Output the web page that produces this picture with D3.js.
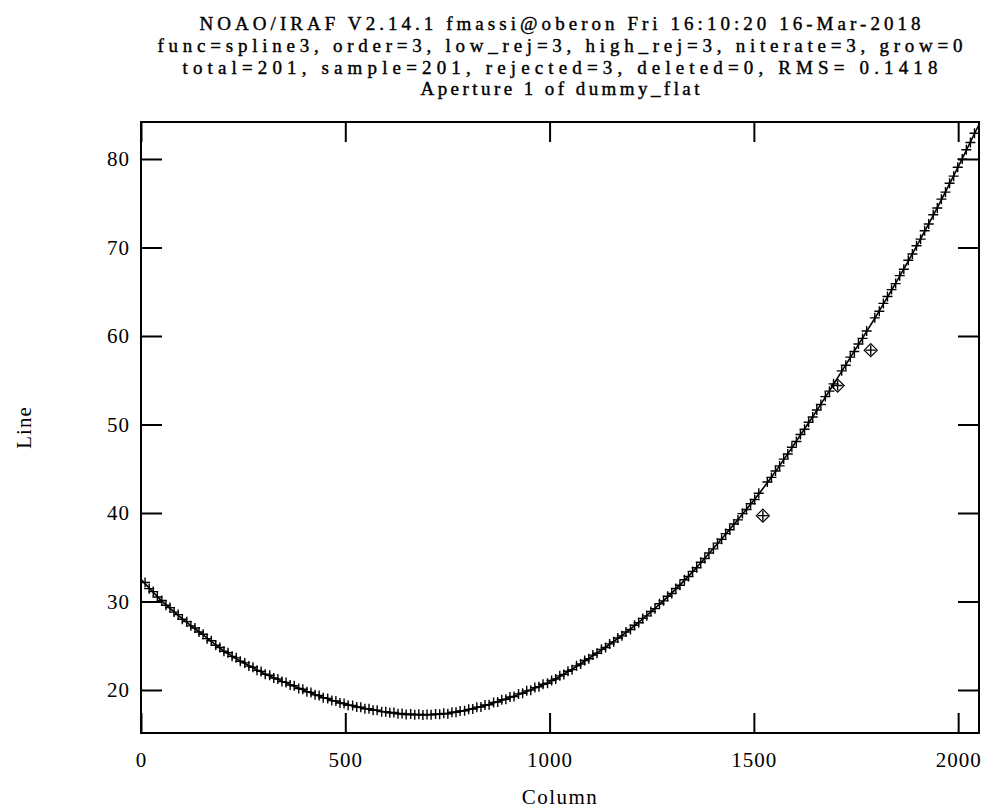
<!DOCTYPE html>
<html lang="en">
<head>
  <meta charset="UTF-8">
  <title>Aperture 1 of dummy_flat</title>
  <style>
    body {
      margin: 0;
      background: #fff;
    }
    svg {
      display: block;
      font-family: "Liberation Serif", "Times New Roman", serif;
    }
  </style>
  <script src="https://d3js.org/d3.v7.min.js"></script>
</head>
<body>
  <div id="chart"></div>

  <script>
    const titleLines = [
      "NOAO/IRAF V2.14.1 fmassi@oberon Fri 16:10:20 16-Mar-2018",
      "func=spline3, order=3, low_rej=3, high_rej=3, niterate=3, grow=0",
      "total=201, sample=201, rejected=3, deleted=0, RMS=  0.1418",
      "Aperture 1 of dummy_flat"
    ];

    // traced positions (column, line)
    const columns = [
      10, 20, 30, 40, 51, 61, 71, 81, 91, 101, 112, 122, 132, 142, 152, 162, 172, 183, 193, 203,
      213, 223, 233, 243, 254, 264, 274, 284, 294, 304, 315, 325, 335, 345, 355, 365, 375, 386, 396, 406,
      416, 426, 436, 446, 457, 467, 477, 487, 497, 507, 518, 528, 538, 548, 558, 568, 578, 589, 599, 609,
      619, 629, 639, 649, 660, 670, 680, 690, 700, 710, 721, 731, 741, 751, 761, 771, 781, 792, 802, 812,
      822, 832, 842, 852, 863, 873, 883, 893, 903, 913, 924, 934, 944, 954, 964, 974, 984, 995, 1005, 1015,
      1025, 1035, 1045, 1055, 1066, 1076, 1086, 1096, 1106, 1116, 1127, 1137, 1147, 1157, 1167, 1177, 1187, 1198, 1208, 1218,
      1228, 1238, 1248, 1258, 1269, 1279, 1289, 1299, 1309, 1319, 1330, 1340, 1350, 1360, 1370, 1380, 1390, 1401, 1411, 1421,
      1431, 1441, 1451, 1461, 1472, 1482, 1492, 1502, 1512, 1522, 1533, 1543, 1553, 1563, 1573, 1583, 1593, 1604, 1614, 1624,
      1634, 1644, 1654, 1664, 1675, 1685, 1695, 1705, 1715, 1725, 1736, 1746, 1756, 1766, 1776, 1786, 1796, 1807, 1817, 1827,
      1837, 1847, 1857, 1867, 1878, 1888, 1898, 1908, 1918, 1928, 1939, 1949, 1959, 1969, 1979, 1989, 1999, 2010, 2020, 2030,
      2040
    ];
    const lines = [
      32.15, 31.45, 31.12, 30.50, 30.12, 29.58, 29.31, 28.80, 28.52, 28.00, 27.72, 27.25, 27.01, 26.55, 26.30, 25.80, 25.57, 25.05, 24.80, 24.38,
      24.20, 23.80, 23.63, 23.25, 23.06, 22.70, 22.57, 22.22, 22.10, 21.77, 21.66, 21.35, 21.25, 20.95, 20.86, 20.57, 20.48, 20.17, 20.08, 19.80,
      19.73, 19.45, 19.38, 19.12, 19.05, 18.80, 18.76, 18.53, 18.48, 18.28, 18.26, 18.07, 18.06, 17.88, 17.88, 17.71, 17.72, 17.55, 17.55, 17.42,
      17.45, 17.32, 17.35, 17.22, 17.28, 17.19, 17.25, 17.17, 17.24, 17.20, 17.30, 17.25, 17.36, 17.32, 17.48, 17.48, 17.64, 17.65, 17.81, 17.85,
      18.06, 18.08, 18.30, 18.33, 18.60, 18.65, 18.90, 18.95, 19.20, 19.27, 19.56, 19.63, 19.90, 19.98, 20.27, 20.36, 20.65, 20.76, 21.08, 21.24,
      21.60, 21.76, 22.12, 22.30, 22.73, 22.93, 23.33, 23.53, 23.94, 24.15, 24.59, 24.80, 25.21, 25.44, 25.88, 26.12, 26.56, 26.83, 27.31, 27.60,
      28.09, 28.38, 28.87, 29.19, 29.75, 30.07, 30.59, 30.91, 31.47, 31.84, 32.46, 32.83, 33.40, 33.82, 34.44, 34.86, 35.48, 35.95, 36.59, 37.03,
      37.67, 38.11, 38.76, 39.22, 39.93, 40.39, 41.05, 41.52, 42.23, 39.70, 43.51, 44.02, 44.75, 45.32, 46.09, 46.66, 47.43, 48.08, 48.87, 49.46,
      50.25, 50.84, 51.64, 52.26, 53.15, 53.77, 54.59, 54.40, 56.06, 56.70, 57.61, 58.25, 59.09, 59.73, 60.57, 58.40, 62.05, 62.80, 63.68, 64.46,
      65.24, 65.92, 66.82, 67.54, 68.55, 69.27, 70.19, 70.94, 71.90, 72.66, 73.70, 74.46, 75.46, 76.26, 77.26, 78.06, 79.06, 79.99, 81.05, 81.87,
      82.91
    ];

    // points thrown out by the rejection iterations
    const rejectedColumns = [1522, 1705, 1786];
    const rejectedLines = [39.70, 54.40, 58.40];

    // spline3 fit sampled every 50 columns
    const fitColumns = [
      0, 50, 100, 150, 200, 250, 300, 350, 400, 450, 500, 550, 600, 650, 700, 750, 800, 850, 900, 950, 1000,
      1050, 1100, 1150, 1200, 1250, 1300, 1350, 1400, 1450, 1500, 1550, 1600, 1650, 1700, 1750, 1800, 1850, 1900, 1950, 2000, 2050
    ];
    const fitLines = [
      32.5, 30.1, 28.1, 26.3, 24.5, 23.1, 21.9, 20.9, 19.95, 19.1, 18.4, 17.9, 17.5, 17.25, 17.2, 17.35, 17.75, 18.35, 19.1, 19.95, 20.9,
      22.2, 23.7, 25.25, 26.95, 28.9, 31.0, 33.35, 35.95, 38.65, 41.45, 44.5, 47.85, 51.3, 54.9, 58.6, 62.3, 66.2, 70.3, 74.6, 79.1, 83.8
    ];

    const xTicks = [0, 500, 1000, 1500, 2000];
    const yTicks = [20, 30, 40, 50, 60, 70, 80];

    const width = 983;
    const height = 808;
    const margin = {top: 122, right: 4, bottom: 75, left: 141};
    const serif = "'Liberation Serif', 'Times New Roman', serif";

    const x = d3.scaleLinear()
        .domain([0, 2051])
        .range([margin.left, width - margin.right]);

    const y = d3.scaleLinear()
        .domain([15.14, 84.18])
        .range([height - margin.bottom, margin.top]);

    const svg = d3.create("svg")
        .attr("width", width)
        .attr("height", height)
        .attr("viewBox", [0, 0, width, height]);

    svg.append("rect")
        .attr("width", width)
        .attr("height", height)
        .attr("fill", "#fff");

    // title block
    const titleWidths = [721, 805, 755, 279];
    svg.append("g")
        .attr("text-anchor", "middle")
        .style("font-size", "19px")
      .selectAll("text")
      .data(titleLines)
      .join("text")
        .attr("x", (x(0) + x(2051)) / 2)
        .attr("y", (d, i) => 30 + i * 21.8)
        .attr("textLength", (d, i) => titleWidths[i])
        .attr("lengthAdjust", "spacing")
        .attr("fill", "#000")
        .attr("stroke", "#000")
        .attr("stroke-width", 0.4)
        .text(d => d);

    const tickLen = 20;

    function styleAxis(g) {
      g.attr("font-family", serif);
      g.select(".domain").remove();
      g.selectAll(".tick line")
          .attr("stroke", "#000")
          .attr("stroke-width", 2);
      g.selectAll(".tick text")
          .attr("fill", "#000")
          .style("font-size", "21px")
          .style("letter-spacing", "1px");
    }

    svg.append("g")
        .attr("transform", `translate(0,${y.range()[0]})`)
        .call(d3.axisBottom(x).tickValues(xTicks).tickSize(-tickLen).tickPadding(19).tickFormat(d3.format("d")))
        .call(styleAxis);

    svg.append("g")
        .attr("transform", `translate(0,${y.range()[1]})`)
        .call(d3.axisTop(x).tickValues(xTicks).tickSize(-tickLen).tickFormat(""))
        .call(styleAxis);

    svg.append("g")
        .attr("transform", `translate(${x.range()[0]},0)`)
        .call(d3.axisLeft(y).tickValues(yTicks).tickSize(-tickLen - 1).tickPadding(11).tickFormat(d3.format("d")))
        .call(styleAxis);

    svg.append("g")
        .attr("transform", `translate(${x.range()[1]},0)`)
        .call(d3.axisRight(y).tickValues(yTicks).tickSize(-tickLen - 1).tickFormat(""))
        .call(styleAxis);

    // frame
    svg.append("rect")
        .attr("x", x.range()[0])
        .attr("y", y.range()[1])
        .attr("width", x.range()[1] - x.range()[0])
        .attr("height", y.range()[0] - y.range()[1])
        .attr("fill", "none")
        .attr("stroke", "#000")
        .attr("stroke-width", 2);

    // axis titles
    svg.append("text")
        .attr("x", (x(0) + x(2051)) / 2)
        .attr("y", 804)
        .attr("text-anchor", "middle")
        .style("font-size", "21px")
        .style("letter-spacing", "1.5px")
        .text("Column");

    svg.append("text")
        .attr("transform", `translate(31,${(y.range()[0] + y.range()[1]) / 2}) rotate(-90)`)
        .attr("text-anchor", "middle")
        .style("font-size", "21px")
        .style("letter-spacing", "1px")
        .text("Line");

    svg.append("clipPath")
        .attr("id", "plot-clip")
      .append("rect")
        .attr("x", x.range()[0])
        .attr("y", y.range()[1])
        .attr("width", x.range()[1] - x.range()[0])
        .attr("height", y.range()[0] - y.range()[1]);

    const plot = svg.append("g")
        .attr("clip-path", "url(#plot-clip)");

    const fitLine = d3.line()
        .x((d, i) => x(fitColumns[i]))
        .y(d => y(d))
        .curve(d3.curveMonotoneX);

    plot.append("path")
        .datum(fitLines)
        .attr("fill", "none")
        .attr("stroke", "#000")
        .attr("stroke-width", 1.6)
        .attr("d", fitLine);

    const plus = "M-5,0H5M0,-5V5";
    const diamond = "M0,-6.5L6.5,0L0,6.5L-6.5,0Z";

    plot.append("g")
        .attr("fill", "none")
        .attr("stroke", "#000")
        .attr("stroke-width", 1.4)
      .selectAll("path")
      .data(lines)
      .join("path")
        .attr("transform", (d, i) => `translate(${x(columns[i])},${y(d)})`)
        .attr("d", plus);

    plot.append("g")
        .attr("fill", "none")
        .attr("stroke", "#000")
        .attr("stroke-width", 1.2)
      .selectAll("path")
      .data(rejectedLines)
      .join("path")
        .attr("transform", (d, i) => `translate(${x(rejectedColumns[i])},${y(d)})`)
        .attr("d", diamond);

    document.getElementById("chart").appendChild(svg.node());
  </script>
</body>
</html>
